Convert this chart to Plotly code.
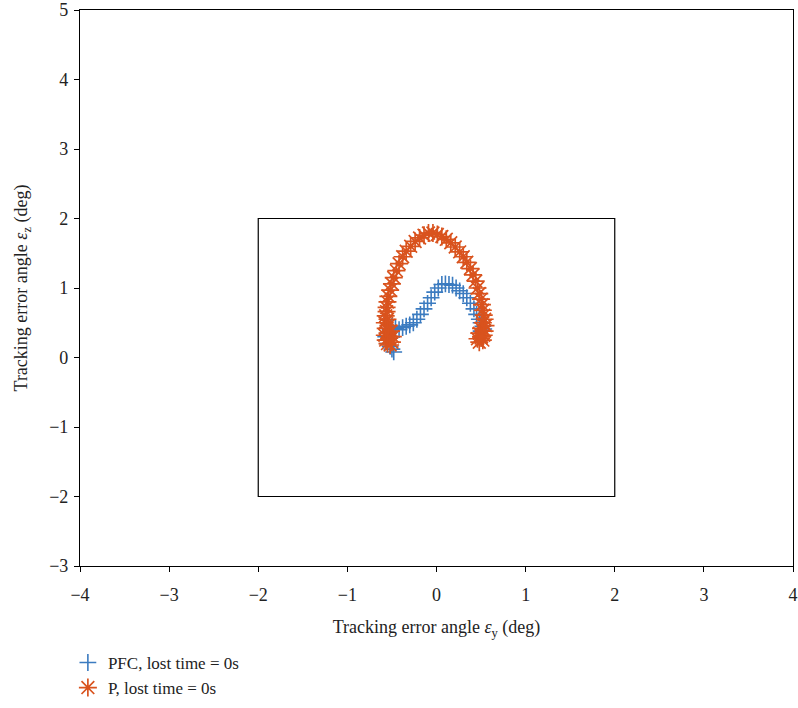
import plotly.graph_objects as go

pfc_x = [-0.48, -0.5, -0.52, -0.55, -0.56, -0.57, -0.55, -0.52, -0.5, -0.46, -0.42, -0.38, -0.34, -0.3,
         -0.26, -0.22, -0.18, -0.14, -0.1, -0.06, -0.02, 0.02, 0.06, 0.1, 0.14, 0.18, 0.22, 0.26, 0.3,
         0.34, 0.38, 0.42, 0.45, 0.48, 0.5, 0.52, 0.53, 0.5]
pfc_y = [0.08, 0.12, 0.16, 0.2, 0.25, 0.3, 0.35, 0.4, 0.45, 0.42, 0.4, 0.43, 0.45, 0.47,
         0.5, 0.55, 0.62, 0.7, 0.78, 0.86, 0.94, 1.0, 1.05, 1.06, 1.05, 1.04, 1.0, 0.96, 0.92,
         0.86, 0.78, 0.7, 0.62, 0.55, 0.5, 0.45, 0.41, 0.38]

p_x = [-0.52, -0.55, -0.5, -0.57, -0.53, -0.49, -0.58, -0.55, -0.51, -0.57, -0.54, -0.58, -0.55, -0.57,
       -0.56, -0.56, -0.55, -0.54, -0.52, -0.5, -0.48, -0.45, -0.42, -0.38, -0.34, -0.29, -0.24, -0.19,
       -0.14, -0.09, -0.04, 0.01, 0.06, 0.11, 0.16, 0.21, 0.26, 0.3, 0.34, 0.38, 0.41, 0.44, 0.46,
       0.48, 0.5, 0.51, 0.52, 0.53, 0.54, 0.52, 0.55, 0.5, 0.54, 0.48, 0.53, 0.5, 0.46, 0.52, 0.48, 0.5]
p_y = [0.18, 0.2, 0.22, 0.25, 0.28, 0.3, 0.32, 0.35, 0.38, 0.42, 0.46, 0.5, 0.55, 0.6,
       0.66, 0.72, 0.8, 0.88, 0.97, 1.06, 1.15, 1.25, 1.35, 1.45, 1.53, 1.6, 1.67, 1.72,
       1.76, 1.79, 1.79, 1.77, 1.74, 1.7, 1.65, 1.59, 1.52, 1.45, 1.37, 1.28, 1.19, 1.1, 1.0,
       0.92, 0.84, 0.76, 0.68, 0.61, 0.55, 0.5, 0.46, 0.42, 0.38, 0.35, 0.32, 0.28, 0.27, 0.25, 0.22, 0.3]

box_x = [-2, 2]
box_y = [-2, 2]

x_ticks = [-4, -3, -2, -1, 0, 1, 2, 3, 4]
y_ticks = [-3, -2, -1, 0, 1, 2, 3, 4, 5]

blue = "#3b7bc0"
orange = "#d9531e"
font = "Liberation Serif"

fig = go.Figure()
fig.add_trace(go.Scatter(
    x=pfc_x, y=pfc_y, mode="markers", name="PFC, lost time = 0s",
    marker=dict(symbol="cross-thin", size=12, line=dict(color=blue, width=1.6), color=blue),
))
fig.add_trace(go.Scatter(
    x=p_x, y=p_y, mode="markers", name="P, lost time = 0s",
    marker=dict(symbol="asterisk-open", size=15, line=dict(color=orange, width=1.7), color=orange),
))
fig.add_shape(type="rect", xref="x", yref="y", x0=box_x[0], x1=box_x[1], y0=box_y[0], y1=box_y[1],
              line=dict(color="black", width=1.2), layer="below")

axis_common = dict(showline=True, linecolor="black", linewidth=1.2, mirror=True, ticks="outside",
                   ticklen=5, tickcolor="black", showgrid=False, zeroline=False, automargin=False,
                   tickfont=dict(family=font, size=18, color="#222"))
fig.update_xaxes(range=[-4, 4], tickvals=x_ticks, ticklabelstandoff=7,
                 title=dict(text="Tracking error angle <i>ε</i><sub>y</sub> (deg)",
                            font=dict(family=font, size=18, color="#222"), standoff=16),
                 **axis_common)
fig.update_yaxes(range=[-3, 5], tickvals=y_ticks, ticklabelstandoff=2,
                 title=dict(text="Tracking error angle <i>ε</i><sub>z</sub> (deg)",
                            font=dict(family=font, size=18, color="#222"), standoff=16),
                 **axis_common)
fig.update_layout(
    width=798, height=708,
    margin=dict(l=80, r=5, t=10, b=142, autoexpand=False),
    plot_bgcolor="white", paper_bgcolor="white",
    showlegend=True,
    legend=dict(x=-0.017, xanchor="left", y=-0.142, yanchor="top",
                font=dict(family=font, size=17, color="#222"), tracegroupgap=0),
    font=dict(family=font),
)
fig.write_html("out.html", config={"displayModeBar": False},
               post_script="document.body.style.margin='0';document.body.style.overflow='hidden';")
